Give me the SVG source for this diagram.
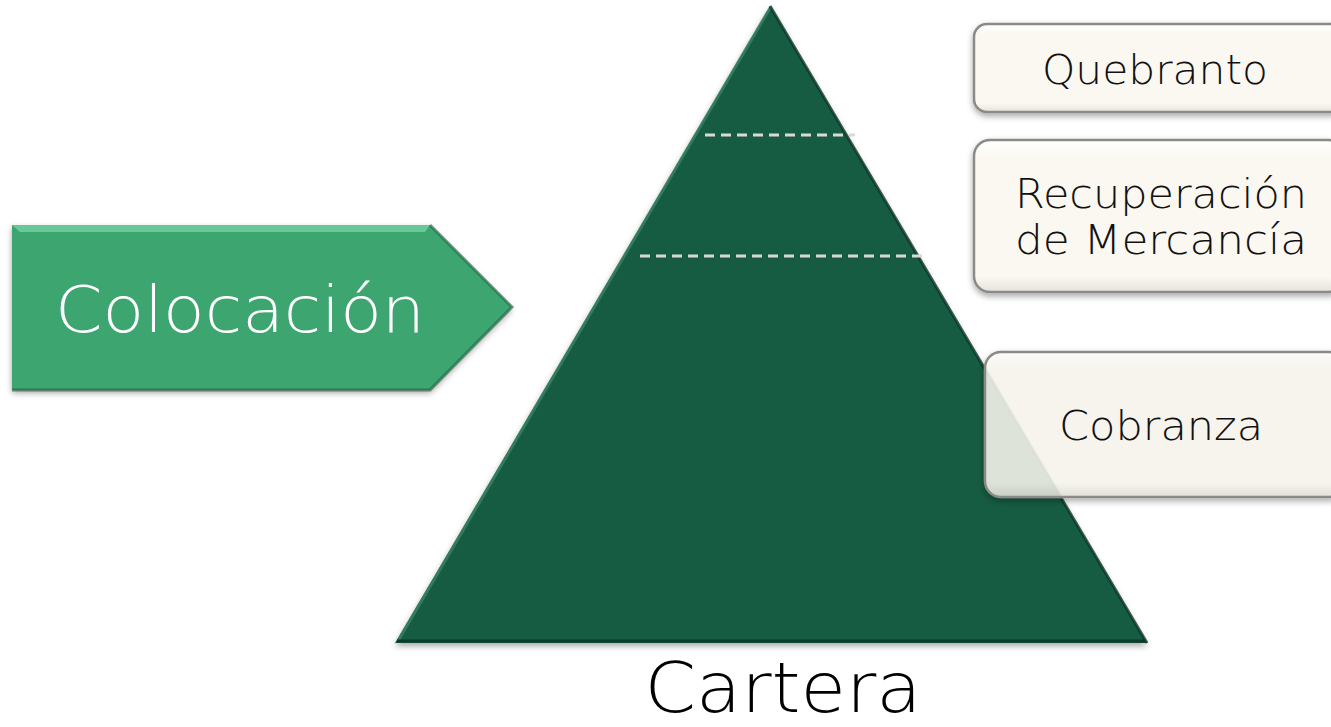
<svg xmlns="http://www.w3.org/2000/svg" width="1331" height="727" viewBox="0 0 1331 727">
<defs>
<style>
.box{fill:#FAF8F0;stroke:#8A8A86;stroke-width:2.5}
.lbl{font-family:"DejaVu Sans","Liberation Sans",sans-serif;font-weight:200;fill:#111;text-anchor:middle}
.dash{stroke:#D9D9D9;stroke-width:3;stroke-dasharray:10 6;fill:none}
</style>
<filter id="sh" x="-10%" y="-10%" width="120%" height="130%">
<feDropShadow dx="0" dy="3" stdDeviation="3" flood-color="#000" flood-opacity="0.35"/>
</filter>
<linearGradient id="bg" x1="0" y1="0" x2="0" y2="1">
<stop offset="0" stop-color="#FFFFFF"/>
<stop offset="0.12" stop-color="#FAF8F0"/>
<stop offset="0.9" stop-color="#FAF8F0"/>
<stop offset="1" stop-color="#E4E2DA"/>
</linearGradient>
</defs>
<rect width="1331" height="727" fill="#FFFFFF"/>
<g id="piramide">
<polygon points="770,6 1147,643 395,643" fill="#175C42" filter="url(#sh)"/>
<polyline points="398,641 770,8" fill="none" stroke="#3E8A66" stroke-width="3" opacity="0.7"/>
<polyline points="770,6 1147,643" fill="none" stroke="#0B3525" stroke-width="3" opacity="0.8"/>
<line x1="397" y1="641" x2="1145" y2="641" stroke="#0E3A29" stroke-width="3"/>
</g>
<g id="connectors">
<line class="dash" x1="705" y1="135" x2="855" y2="135"/>
<line class="dash" x1="640" y1="256" x2="925" y2="256"/>
</g>
<g id="colocacion">
<polygon points="12,225 430,225 512,307 430,390 12,390" fill="#3DA570" filter="url(#sh)"/>
<polygon points="12,225 430,225 425,232 20,232" fill="#6FD3A0" opacity="0.8"/>
<polyline points="430,225 512,307 430,390 12,390" fill="none" stroke="#1E5E3E" stroke-width="3" opacity="0.6"/>
<text class="lbl" x="240" y="332" font-size="64" style="fill:#FFFFFF" textLength="370" lengthAdjust="spacingAndGlyphs">Colocación</text>
</g>
<g id="quebranto">
<rect class="box" x="974" y="24" width="370" height="88" rx="13" style="fill:url(#bg)" filter="url(#sh)"/>
<text class="lbl" x="1155" y="84" font-size="40" textLength="226" lengthAdjust="spacingAndGlyphs">Quebranto</text>
</g>
<g id="recuperacion">
<rect class="box" x="974" y="140" width="370" height="152" rx="16" style="fill:url(#bg)" filter="url(#sh)"/>
<text class="lbl" x="1161" y="208" font-size="40" textLength="292" lengthAdjust="spacingAndGlyphs">Recuperación</text>
<text class="lbl" x="1161" y="254" font-size="40" textLength="292" lengthAdjust="spacingAndGlyphs">de Mercancía</text>
</g>
<g id="cobranza">
<rect class="box" x="985" y="352" width="360" height="145" rx="16" style="fill:url(#bg);fill-opacity:0.85" filter="url(#sh)"/>
<text class="lbl" x="1161" y="440" font-size="40" textLength="204" lengthAdjust="spacingAndGlyphs">Cobranza</text>
</g>
<g id="cartera">
<text class="lbl" x="783" y="712" font-size="70" style="fill:#000" textLength="277" lengthAdjust="spacingAndGlyphs">Cartera</text>
</g>
</svg>
